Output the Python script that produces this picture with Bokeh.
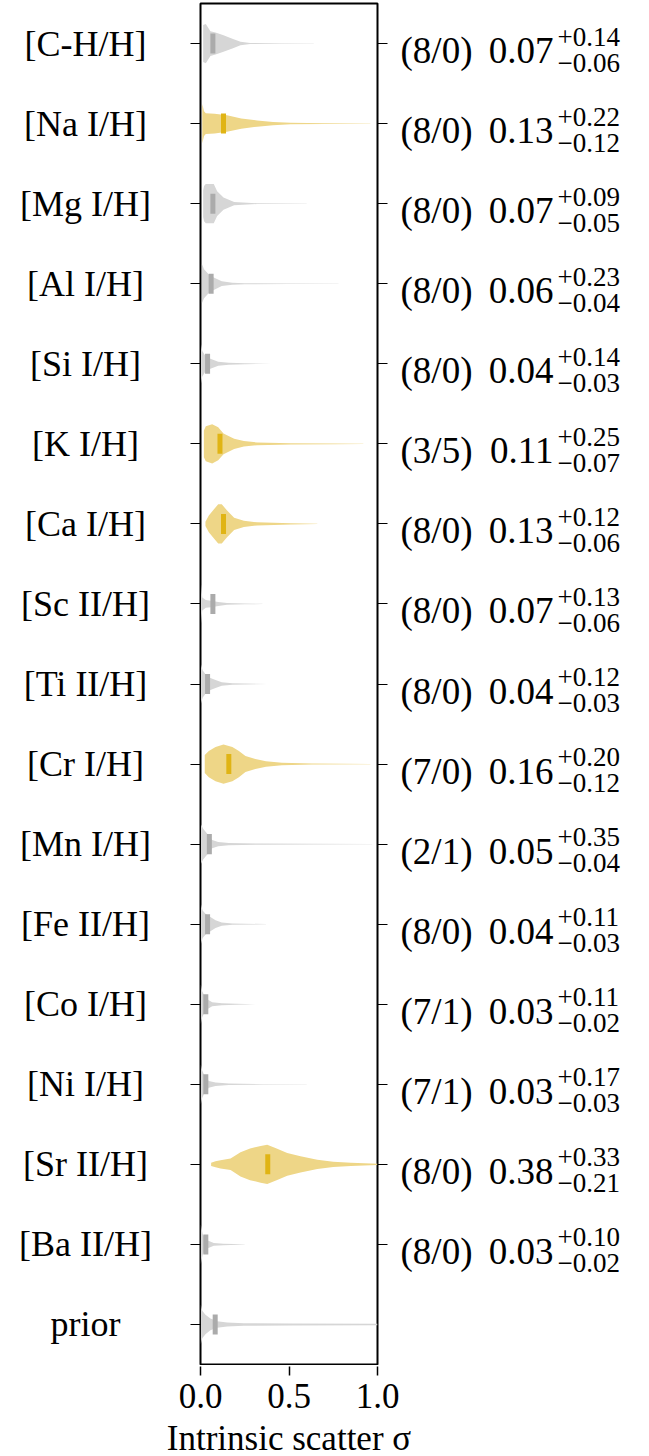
import numpy as np
from bokeh.plotting import figure
from bokeh.models import Range1d, FixedTicker, LinearAxis, PrintfTickFormatter
from bokeh.layouts import row, column
from bokeh.embed import file_html
from bokeh.resources import INLINE
from bokeh.core.properties import value

# ---------------- data ----------------
NAMES = ["[C-H/H]", "[Na I/H]", "[Mg I/H]", "[Al I/H]", "[Si I/H]", "[K I/H]",
         "[Ca I/H]", "[Sc II/H]", "[Ti II/H]", "[Cr I/H]", "[Mn I/H]", "[Fe II/H]",
         "[Co I/H]", "[Ni I/H]", "[Sr II/H]", "[Ba II/H]", "prior"]
HIGHLIGHT = [0, 1, 0, 0, 0, 1, 1, 0, 0, 1, 0, 0, 0, 0, 1, 0, 0]
MEDIANS = [0.07, 0.13, 0.07, 0.06, 0.04, 0.11, 0.13, 0.07, 0.04, 0.16,
           0.05, 0.04, 0.03, 0.03, 0.38, 0.03, 0.083]
COUNTS = ["(8/0)", "(8/0)", "(8/0)", "(8/0)", "(8/0)", "(3/5)", "(8/0)", "(8/0)",
          "(8/0)", "(7/0)", "(2/1)", "(8/0)", "(7/1)", "(7/1)", "(8/0)", "(8/0)"]
ERR_UP = [0.14, 0.22, 0.09, 0.23, 0.14, 0.25, 0.12, 0.13, 0.12, 0.20,
          0.35, 0.11, 0.11, 0.17, 0.33, 0.10]
ERR_DN = [0.06, 0.12, 0.05, 0.04, 0.03, 0.07, 0.06, 0.06, 0.03, 0.12,
          0.04, 0.03, 0.02, 0.03, 0.21, 0.02]
X_TICKS = [0.0, 0.5, 1.0]
X_LABEL = "Intrinsic scatter σ"

# violin profiles: sigma positions and relative density
PROFILE_SIGMA = [
    [0.015, 0.03, 0.056, 0.085, 0.13, 0.18, 0.226, 0.28, 0.45, 0.64],
    [0.01, 0.02, 0.03, 0.08, 0.15, 0.23, 0.32, 0.41, 0.51, 0.7, 0.96],
    [0.015, 0.02, 0.03, 0.075, 0.094, 0.13, 0.17, 0.19, 0.32, 0.6],
    [0.008, 0.02, 0.047, 0.075, 0.12, 0.18, 0.25, 0.5, 0.78],
    [0.003, 0.01, 0.028, 0.056, 0.1, 0.16, 0.25, 0.4],
    [0.019, 0.03, 0.066, 0.10, 0.13, 0.19, 0.245, 0.32, 0.51, 0.75, 0.92],
    [0.028, 0.047, 0.075, 0.10, 0.12, 0.15, 0.19, 0.245, 0.32, 0.51, 0.66],
    [0.003, 0.01, 0.03, 0.06, 0.1, 0.15, 0.25, 0.35],
    [0.003, 0.012, 0.028, 0.056, 0.085, 0.12, 0.18, 0.38],
    [0.024, 0.047, 0.085, 0.13, 0.18, 0.217, 0.254, 0.31, 0.37, 0.46, 0.63, 0.96],
    [0.003, 0.015, 0.038, 0.066, 0.10, 0.16, 0.35, 0.63, 0.97],
    [0.003, 0.012, 0.028, 0.056, 0.085, 0.12, 0.18, 0.37],
    [0.002, 0.01, 0.019, 0.038, 0.066, 0.12, 0.2, 0.31],
    [0.002, 0.01, 0.024, 0.047, 0.085, 0.16, 0.35, 0.6],
    [0.06, 0.085, 0.113, 0.17, 0.226, 0.28, 0.34, 0.377, 0.43, 0.49, 0.565, 0.66, 0.75, 0.85, 1.0],
    [0.002, 0.012, 0.025, 0.038, 0.075, 0.13, 0.25],
    [0.002, 0.01, 0.028, 0.056, 0.094, 0.15, 0.245, 0.51, 1.0],
]
PROFILE_DENSITY = [
    [18, 19, 12, 10.7, 8, 4.7, 1.7, 0.5, 0.3, 0.1],
    [19, 12, 10, 9.5, 8, 5, 3, 1.5, 0.7, 0.3, 0.1],
    [13, 17, 19, 19, 12, 6, 3, 1.5, 0.4, 0.1],
    [19, 14, 9, 6, 2.3, 1, 0.5, 0.25, 0.1],
    [20, 13, 8, 5, 2, 1, 0.4, 0.1],
    [13, 17, 19, 16, 10, 5, 2.7, 1.3, 0.6, 0.3, 0.1],
    [2, 8, 14, 19, 19, 13, 6, 3, 1.5, 0.5, 0.1],
    [15, 5, 3, 2.5, 1.5, 0.7, 0.3, 0.1],
    [20, 14, 10, 6, 4, 1.7, 0.7, 0.1],
    [9, 13, 17, 19.5, 17, 13, 8, 5, 2.7, 1.3, 0.5, 0.1],
    [19, 15, 10, 4, 2, 1, 0.6, 0.4, 0.15],
    [20, 14, 10.7, 7.3, 4, 1.7, 0.7, 0.1],
    [20, 13, 10, 5, 2, 1, 0.4, 0.1],
    [19, 13, 8, 3.3, 1.7, 0.7, 0.3, 0.1],
    [1.7, 3, 4, 5.7, 12, 15.7, 18.3, 19.5, 15.7, 11.3, 8, 4.7, 2.7, 1.7, 0.7],
    [19, 10, 6, 4, 1.3, 0.7, 0.1],
    [20, 14, 10, 6, 3.3, 2, 1.3, 1, 0.7],
]

# ---------------- style ----------------
FONT = "Liberation Serif"
YEL_FILL, YEL_BAR = "#EED687", "#E0B414"
GRY_FILL, GRY_BAR = "#D6D6D6", "#ABABAB"
FRAME_H = 1361
TOP = 3
n = len(NAMES)
rows_idx = list(range(n))
y_range = Range1d(n - 0.5, -0.5)
x_range = Range1d(0, 1)


def hide_labels(ax):
    ax.axis_line_color = None
    ax.major_tick_in = 0
    ax.minor_tick_line_color = None
    ax.major_label_text_font_size = "1px"
    ax.major_label_text_color = None
    ax.major_label_standoff = 0


# ---------------- main panel ----------------
p = figure(output_backend="svg", toolbar_location=None,
           frame_width=177, frame_height=FRAME_H,
           x_range=x_range, y_range=y_range, x_axis_location=None,
           min_border_left=22, min_border_right=13, min_border_top=TOP,
           min_border_bottom=1)
p.grid.visible = False
p.outline_line_color = "black"
p.outline_line_width = 2
p.background_fill_color = "white"
p.border_fill_color = "white"

xs, ys, fills = [], [], []
for i in range(n):
    s = np.array(PROFILE_SIGMA[i], dtype=float)
    d = np.array(PROFILE_DENSITY[i], dtype=float)
    hw = d / d.max() * 0.245
    xs.append(list(np.concatenate([s, s[::-1]])))
    ys.append(list(np.concatenate([i - hw, (i + hw)[::-1]])))
    fills.append(YEL_FILL if HIGHLIGHT[i] else GRY_FILL)
p.patches(xs, ys, fill_color=fills, line_color=None)
bar_cols = [YEL_BAR if h else GRY_BAR for h in HIGHLIGHT]
p.rect(x=MEDIANS, y=rows_idx, width=5, width_units="screen", height=0.25,
       fill_color=bar_cols, line_color=None)

p.yaxis.ticker = FixedTicker(ticks=rows_idx)
hide_labels(p.yaxis[0])
p.yaxis.major_tick_out = 10
p.yaxis.major_tick_line_width = 1.2
p.yaxis.major_tick_line_color = "black"

ry = LinearAxis(ticker=FixedTicker(ticks=rows_idx[:len(COUNTS)]))
hide_labels(ry)
ry.major_tick_out = 10
ry.major_tick_line_width = 1.2
ry.major_tick_line_color = "black"
p.add_layout(ry, "right")

# ---------------- bottom axis panel ----------------
pb = figure(output_backend="svg", toolbar_location=None,
            frame_width=177, frame_height=1,
            x_range=x_range, y_range=Range1d(0, 1), y_axis_location=None,
            min_border_left=200, min_border_right=272, min_border_top=0,
            min_border_bottom=0)
pb.grid.visible = False
pb.outline_line_color = None
pb.xaxis.ticker = FixedTicker(ticks=X_TICKS)
pb.xaxis.formatter = PrintfTickFormatter(format="%.1f")
pb.xaxis.axis_line_color = None
pb.xaxis.major_tick_out = 9
pb.xaxis.major_tick_in = 0
pb.xaxis.major_tick_line_width = 1.5
pb.xaxis.major_tick_line_color = "black"
pb.xaxis.minor_tick_line_color = None
pb.xaxis.major_label_text_font = FONT
pb.xaxis.major_label_text_font_size = "35px"
pb.xaxis.major_label_text_color = "black"
pb.xaxis.major_label_standoff = 8
pb.xaxis.axis_label = X_LABEL
pb.xaxis.axis_label_text_font = FONT
pb.xaxis.axis_label_text_font_size = "35px"
pb.xaxis.axis_label_text_font_style = "normal"
pb.xaxis.axis_label_text_color = "black"
pb.xaxis.axis_label_standoff = 8

# ---------------- left labels panel ----------------
pl = figure(output_backend="svg", toolbar_location=None,
            frame_width=178, frame_height=FRAME_H,
            x_range=Range1d(0, 178), y_range=y_range,
            x_axis_type=None, y_axis_type=None,
            min_border_left=0, min_border_right=0, min_border_top=TOP,
            min_border_bottom=1)
pl.grid.visible = False
pl.outline_line_color = None
pl.text(x=[85] * n, y=rows_idx, text=NAMES, text_align="center",
        text_baseline="middle", y_offset=0, text_font=value(FONT),
        text_font_size="36px", text_color="black")

# ---------------- right labels panel ----------------
m = len(COUNTS)
pr = figure(output_backend="svg", toolbar_location=None,
            frame_width=259, frame_height=FRAME_H,
            x_range=Range1d(0, 259), y_range=y_range,
            x_axis_type=None, y_axis_type=None,
            min_border_left=0, min_border_right=0, min_border_top=TOP,
            min_border_bottom=1)
pr.grid.visible = False
pr.outline_line_color = None
ry_idx = rows_idx[:m]
pr.text(x=[46] * m, y=ry_idx, text=COUNTS, text_align="center",
        text_baseline="middle", y_offset=7, text_font=value(FONT),
        text_font_size="37px", text_color="black")
pr.text(x=[163] * m, y=ry_idx, text=[f"{v:.2f}" for v in MEDIANS[:m]],
        text_align="right", text_baseline="middle", y_offset=7,
        text_font=value(FONT), text_font_size="37px", text_color="black")
pr.text(x=[167] * m, y=ry_idx, text=[f"+{v:.2f}" for v in ERR_UP],
        text_align="left", text_baseline="middle", y_offset=-7,
        text_font=value(FONT), text_font_size="27px", text_color="black")
pr.text(x=[167] * m, y=ry_idx, text=[f"\u2212{v:.2f}" for v in ERR_DN],
        text_align="left", text_baseline="middle", y_offset=19,
        text_font=value(FONT), text_font_size="27px", text_color="black")

layout = column(row(pl, p, pr), pb)
open("out.html", "w").write(file_html(layout, INLINE))
